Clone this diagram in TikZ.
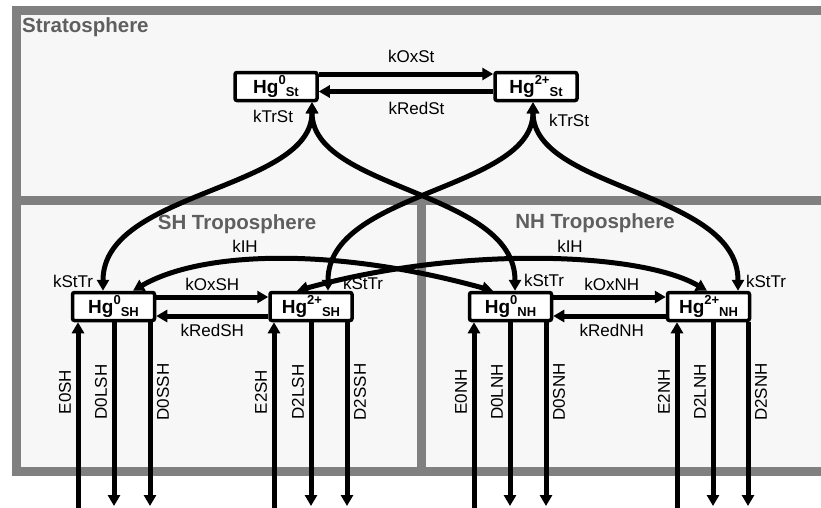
\documentclass[tikz,border=0pt]{standalone}
\usepackage{fontspec}
\setmainfont{Liberation Sans}
\usepackage{tikz}
\usetikzlibrary{arrows.meta}

\definecolor{framegray}{RGB}{128,128,128}
\definecolor{panelfill}{RGB}{247,247,247}
\definecolor{titlegray}{RGB}{95,95,95}

\newcommand{\hgspec}[2]{Hg\raisebox{0.45em}{\fontsize{13}{13}\selectfont #1}\raisebox{-0.16em}{\fontsize{13}{13}\selectfont #2}}

\begin{document}
\begin{tikzpicture}[x=1pt, y=-1pt,
  region/.style={draw=framegray, line width=9pt, fill=panelfill},
  regiontitle/.style={inner sep=0pt, text=titlegray, font=\bfseries\fontsize{20.5}{20.5}\selectfont},
  hgbox/.style={draw, line width=3.5pt, rounded corners=2pt, fill=white, minimum width=82pt, minimum height=28pt, inner sep=0pt, font=\bfseries\fontsize{19}{19}\selectfont},
  ratelbl/.style={inner sep=0pt, font=\fontsize{17}{17}\selectfont},
  vratelbl/.style={ratelbl, rotate=90},
  flux/.style={line width=5pt, >={Triangle[length=11pt,width=12pt]}}]
\useasboundingbox (0,0) rectangle (821,507);

% compartments
\draw[region] (16,10) rectangle (850,200);
\draw[region] (16,200) rectangle (421,471);
\draw[region] (421,200) rectangle (850,471);
\node[regiontitle, anchor=west] (strat) at (22,27.5) {Stratosphere};
\node[regiontitle] (shtrop) at (237,224) {SH Troposphere};
\node[regiontitle] (nhtrop) at (595,223) {NH Troposphere};

% mercury pools
\node[hgbox] (h0st) at (276,86.5) {\hgspec{0}{St}};
\node[hgbox] (h2st) at (536,86.5) {\hgspec{2+}{St}};
\node[hgbox] (h0sh) at (113.5,306.5) {\hgspec{0}{SH}};
\node[hgbox] (h2sh) at (311,306.5) {\hgspec{2+}{SH}};
\node[hgbox] (h0nh) at (510.5,306.5) {\hgspec{0}{NH}};
\node[hgbox] (h2nh) at (708.5,306.5) {\hgspec{2+}{NH}};

% oxidation and reduction
\draw[flux,->] ([yshift=12.5pt]h0st.east) -- node[ratelbl, pos=0.53, above=9pt] (koxst) {kOxSt} ([yshift=12.5pt]h2st.west);
\draw[flux,->] ([yshift=-5pt]h2st.west) -- node[ratelbl, pos=0.44, below=8.5pt] (kredst) {kRedSt} ([yshift=-5pt]h0st.east);
\draw[flux,->] ([yshift=9.5pt]h0sh.east) -- node[ratelbl, above=4pt] (koxsh) {kOxSH} ([yshift=9.5pt]h2sh.west);
\draw[flux,->] ([yshift=-9.5pt]h2sh.west) -- node[ratelbl, below=5.5pt] (kredsh) {kRedSH} ([yshift=-9.5pt]h0sh.east);
\draw[flux,->] ([yshift=9.5pt]h0nh.east) -- node[ratelbl, pos=0.52, above=4pt] (koxnh) {kOxNH} ([yshift=9.5pt]h2nh.west);
\draw[flux,->] ([yshift=-9.5pt]h2nh.west) -- node[ratelbl, pos=0.48, below=5.5pt] (krednh) {kRedNH} ([yshift=-9.5pt]h0nh.east);

% stratosphere <-> troposphere
\draw[flux,<->] ([xshift=36pt]h0st.south) .. controls +(0,88) and +(0,-100) .. ([xshift=-10.5pt]h0sh.north);
\draw[flux,<->] ([xshift=36pt]h0st.south) .. controls +(0,88) and +(0,-100) .. ([xshift=4.5pt]h0nh.north);
\draw[flux,<->] ([xshift=-3pt]h2st.south) .. controls +(0,88) and +(0,-100) .. ([xshift=17pt]h2sh.north);
\draw[flux,<->] ([xshift=-3pt]h2st.south) .. controls +(0,88) and +(0,-100) .. ([xshift=29.5pt]h2nh.north);
\node[ratelbl] (ktrst0) at (273,116) {kTrSt};
\node[ratelbl] (ktrst2) at (569,120) {kTrSt};
\node[ratelbl] (ksttrsh0) at (73,281) {kStTr};
\node[ratelbl] (ksttrsh2) at (363,283) {kStTr};
\node[ratelbl] (ksttrnh0) at (544,280) {kStTr};
\node[ratelbl] (ksttrnh2) at (766,281) {kStTr};

% interhemispheric exchange
\draw[flux,<->] ([xshift=19.5pt]h0sh.north) .. controls +(67,-39) and +(-163,-45) .. ([xshift=-17.5pt]h0nh.north);
\draw[flux,<->] ([xshift=-14pt]h2sh.north) .. controls +(163,-45) and +(-67,-39) .. ([xshift=-1.5pt]h2nh.north);
\node[ratelbl] (kihsh) at (245,246) {kIH};
\node[ratelbl] (kihnh) at (570,246) {kIH};

% emission and deposition
\coordinate (e0sh) at (78,512);
\coordinate (d0lsh) at (114,506);
\coordinate (d0ssh) at (150,506);
\coordinate (e2sh) at (274,512);
\coordinate (d2lsh) at (311,506);
\coordinate (d2ssh) at (347,506);
\coordinate (e0nh) at (474,512);
\coordinate (d0lnh) at (510,506);
\coordinate (d0snh) at (546,506);
\coordinate (e2nh) at (677,512);
\coordinate (d2lnh) at (713,506);
\coordinate (d2snh) at (748,506);
\draw[flux,->] (e0sh) -- (e0sh |- h0sh.south);
\draw[flux,->] (d0lsh |- h0sh.south) -- (d0lsh);
\draw[flux,->] (d0ssh |- h0sh.south) -- (d0ssh);
\draw[flux,->] (e2sh) -- (e2sh |- h2sh.south);
\draw[flux,->] (d2lsh |- h2sh.south) -- (d2lsh);
\draw[flux,->] (d2ssh |- h2sh.south) -- (d2ssh);
\draw[flux,->] (e0nh) -- (e0nh |- h0nh.south);
\draw[flux,->] (d0lnh |- h0nh.south) -- (d0lnh);
\draw[flux,->] (d0snh |- h0nh.south) -- (d0snh);
\draw[flux,->] (e2nh) -- (e2nh |- h2nh.south);
\draw[flux,->] (d2lnh |- h2nh.south) -- (d2lnh);
\draw[flux,->] (d2snh |- h2nh.south) -- (d2snh);
\node[vratelbl] (le0sh) at (65,392) {E0SH};
\node[vratelbl] (ld0lsh) at (101,392) {D0LSH};
\node[vratelbl] (ld0ssh) at (163,392) {D0SSH};
\node[vratelbl] (le2sh) at (261,392) {E2SH};
\node[vratelbl] (ld2lsh) at (298,392) {D2LSH};
\node[vratelbl] (ld2ssh) at (360,392) {D2SSH};
\node[vratelbl] (le0nh) at (461,392) {E0NH};
\node[vratelbl] (ld0lnh) at (497,392) {D0LNH};
\node[vratelbl] (ld0snh) at (559,392) {D0SNH};
\node[vratelbl] (le2nh) at (664,392) {E2NH};
\node[vratelbl] (ld2lnh) at (700,392) {D2LNH};
\node[vratelbl] (ld2snh) at (761,392) {D2SNH};
\end{tikzpicture}
\end{document}
